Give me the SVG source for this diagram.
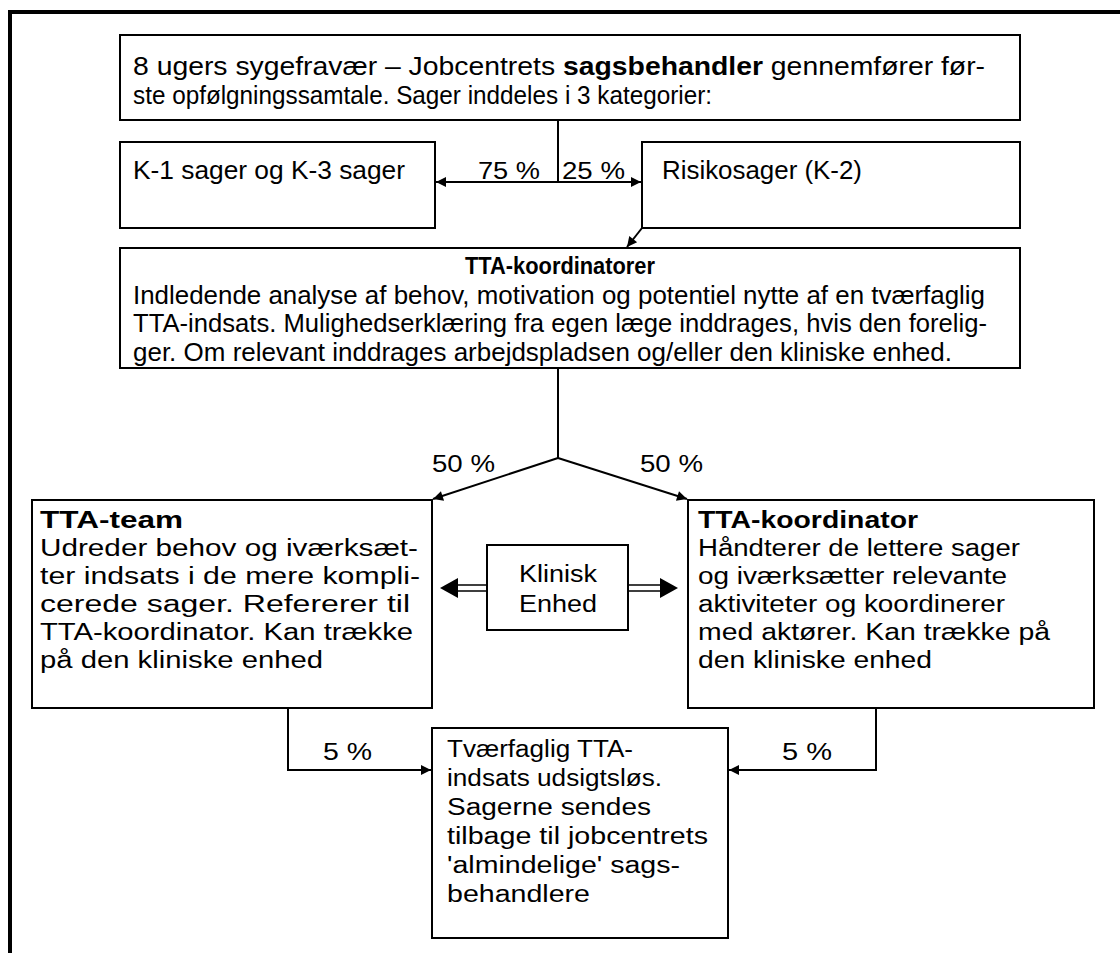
<svg xmlns="http://www.w3.org/2000/svg" width="1120" height="953" viewBox="0 0 1120 953">
<defs>
<style>
.box{fill:#fff;stroke:#000;stroke-width:2}
.t{font-family:"Liberation Sans",Arial,sans-serif;font-size:23px;fill:#000}
.n{font-size:25px}
.b{font-weight:bold}
.c{fill:none;stroke:#000;stroke-width:2}
</style>
<marker id="ah" viewBox="0 0 10 10" refX="10" refY="5" markerWidth="12" markerHeight="10" markerUnits="userSpaceOnUse" orient="auto"><path d="M0,0L10,5L0,10z" fill="#000"/></marker>
</defs>
<rect width="1120" height="953" fill="#fff"/>
<path d="M10,953V12H1120" fill="none" stroke="#000" stroke-width="4"/>
<g id="n-top">
<rect class="box" x="120" y="35" width="900" height="85"/>
<text class="t n" x="133" y="75" textLength="852" lengthAdjust="spacingAndGlyphs">8 ugers sygefravær – Jobcentrets <tspan class="b">sagsbehandler</tspan> gennemfører før-</text>
<text class="t n" x="133" y="104" textLength="579" lengthAdjust="spacingAndGlyphs">ste opfølgningssamtale. Sager inddeles i 3 kategorier:</text>
</g>
<g id="n-k13">
<rect class="box" x="120" y="142" width="315" height="86"/>
<text class="t n" x="133" y="179" textLength="272" lengthAdjust="spacingAndGlyphs">K-1 sager og K-3 sager</text>
</g>
<g id="n-k2">
<rect class="box" x="642" y="142" width="378" height="86"/>
<text class="t n" x="662" y="179" textLength="200" lengthAdjust="spacingAndGlyphs">Risikosager (K-2)</text>
</g>
<g id="n-koord">
<rect class="box" x="120" y="248" width="900" height="120"/>
<text class="t b" x="560" y="274" text-anchor="middle" textLength="190" lengthAdjust="spacingAndGlyphs">TTA-koordinatorer</text>
<text class="t n" x="133" y="304" textLength="852" lengthAdjust="spacingAndGlyphs">Indledende analyse af behov, motivation og potentiel nytte af en tværfaglig</text>
<text class="t n" x="133" y="332" textLength="854" lengthAdjust="spacingAndGlyphs">TTA-indsats. Mulighedserklæring fra egen læge inddrages, hvis den forelig-</text>
<text class="t n" x="133" y="361" textLength="819" lengthAdjust="spacingAndGlyphs">ger. Om relevant inddrages arbejdspladsen og/eller den kliniske enhed.</text>
</g>
<g id="n-team">
<rect class="box" x="32" y="500" width="400" height="208"/>
<text class="t b" x="40" y="528" textLength="143" lengthAdjust="spacingAndGlyphs">TTA-team</text>
<text class="t" x="40" y="556" textLength="378" lengthAdjust="spacingAndGlyphs">Udreder behov og iværksæt-</text>
<text class="t" x="40" y="584" textLength="380" lengthAdjust="spacingAndGlyphs">ter indsats i de mere kompli-</text>
<text class="t" x="40" y="612" textLength="370" lengthAdjust="spacingAndGlyphs">cerede sager. Refererer til</text>
<text class="t" x="40" y="640" textLength="373" lengthAdjust="spacingAndGlyphs">TTA-koordinator. Kan trække</text>
<text class="t" x="40" y="668" textLength="283" lengthAdjust="spacingAndGlyphs">på den kliniske enhed</text>
</g>
<g id="n-koordinator">
<rect class="box" x="688" y="500" width="406" height="208"/>
<text class="t b" x="698" y="528" textLength="220" lengthAdjust="spacingAndGlyphs">TTA-koordinator</text>
<text class="t" x="698" y="556" textLength="322" lengthAdjust="spacingAndGlyphs">Håndterer de lettere sager</text>
<text class="t" x="698" y="584" textLength="309" lengthAdjust="spacingAndGlyphs">og iværksætter relevante</text>
<text class="t" x="698" y="612" textLength="307" lengthAdjust="spacingAndGlyphs">aktiviteter og koordinerer</text>
<text class="t" x="698" y="640" textLength="352" lengthAdjust="spacingAndGlyphs">med aktører. Kan trække på</text>
<text class="t" x="698" y="668" textLength="234" lengthAdjust="spacingAndGlyphs">den kliniske enhed</text>
</g>
<g id="n-klinisk">
<rect class="box" x="487" y="545" width="141" height="85"/>
<text class="t" x="558" y="582" text-anchor="middle" font-size="25" textLength="78" lengthAdjust="spacingAndGlyphs">Klinisk</text>
<text class="t" x="558" y="612" text-anchor="middle" font-size="25" textLength="78" lengthAdjust="spacingAndGlyphs">Enhed</text>
</g>
<g id="n-bottom">
<rect class="box" x="432" y="728" width="296" height="210"/>
<text class="t" x="447" y="757" textLength="186" lengthAdjust="spacingAndGlyphs">Tværfaglig TTA-</text>
<text class="t" x="447" y="786" textLength="215" lengthAdjust="spacingAndGlyphs">indsats udsigtsløs.</text>
<text class="t" x="447" y="815" textLength="204" lengthAdjust="spacingAndGlyphs">Sagerne sendes</text>
<text class="t" x="447" y="844" textLength="261" lengthAdjust="spacingAndGlyphs">tilbage til jobcentrets</text>
<text class="t" x="447" y="873" textLength="233" lengthAdjust="spacingAndGlyphs">'almindelige' sags-</text>
<text class="t" x="447" y="902" textLength="143" lengthAdjust="spacingAndGlyphs">behandlere</text>
</g>
<g id="connectors">
<path class="c" d="M558,120V182"/>
<path class="c" d="M558,182H436" marker-end="url(#ah)"/>
<path class="c" d="M558,182H641" marker-end="url(#ah)"/>
<path class="c" d="M642,228L627,247" marker-end="url(#ah)"/>
<path class="c" d="M558,368V458"/>
<path class="c" d="M558,458L433,499" marker-end="url(#ah)"/>
<path class="c" d="M558,458L687,499" marker-end="url(#ah)"/>
<path class="c" d="M288,708V770H431" marker-end="url(#ah)"/>
<path class="c" d="M876,708V770H729" marker-end="url(#ah)"/>
<g stroke="#000" stroke-width="1.5" fill="none">
<path d="M487,585H456M487,591H456"/>
<path d="M628,585H662M628,591H662"/>
</g>
<path d="M440,588L458,578V598z" fill="#000"/>
<path d="M678,588L660,578V598z" fill="#000"/>
<text class="t" x="478" y="179" textLength="62" lengthAdjust="spacingAndGlyphs">75 %</text>
<text class="t" x="562" y="179" textLength="63" lengthAdjust="spacingAndGlyphs">25 %</text>
<text class="t" x="432" y="472" textLength="63" lengthAdjust="spacingAndGlyphs">50 %</text>
<text class="t" x="640" y="472" textLength="63" lengthAdjust="spacingAndGlyphs">50 %</text>
<text class="t" x="323" y="760" textLength="49" lengthAdjust="spacingAndGlyphs">5 %</text>
<text class="t" x="782" y="760" textLength="50" lengthAdjust="spacingAndGlyphs">5 %</text>
</g>
</svg>
